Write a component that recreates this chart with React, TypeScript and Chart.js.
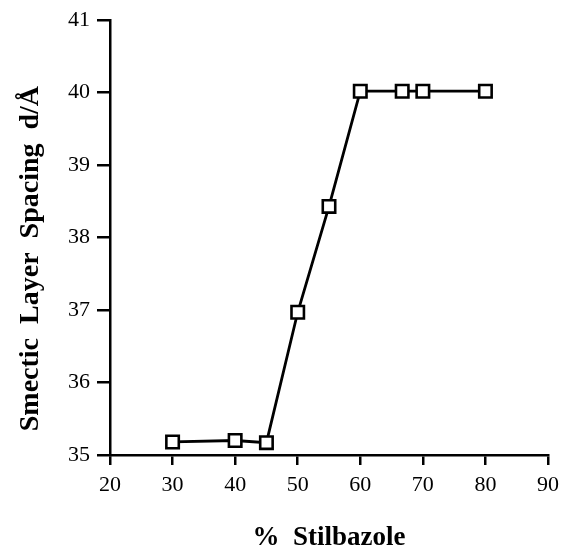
import React, { useEffect, useRef } from "react";
import { Chart, registerables } from "chart.js";

Chart.register(...registerables);

const stilbazolePercent = [30, 40, 45, 50, 55, 60, 66.7, 70, 80];
const layerSpacing = [35.18, 35.2, 35.17, 36.97, 38.43, 40.02, 40.02, 40.02, 40.02];
const xTitle = "%  Stilbazole";
const yTitle = "Smectic  Layer  Spacing  d/Å      ";

const FONT = "'Liberation Serif', 'Times New Roman', serif";

export default function App() {
  const ref = useRef<HTMLCanvasElement | null>(null);

  useEffect(() => {
    if (!ref.current) return;
    const chart = new Chart(ref.current, {
      type: "line",
      data: {
        datasets: [
          {
            data: stilbazolePercent.map((x, i) => ({ x, y: layerSpacing[i] })),
            borderColor: "#000",
            borderWidth: 2.8,
            pointStyle: "rect",
            pointRadius: 8.8,
            pointBorderWidth: 2.6,
            pointBackgroundColor: "#fff",
            pointBorderColor: "#000",
            tension: 0,
            fill: false,
          },
        ],
      },
      options: {
        animation: false,
        responsive: false,
        events: [],
        layout: { padding: { top: 20, right: 0, left: 0, bottom: 0 } },
        plugins: {
          legend: { display: false },
          tooltip: { enabled: false },
        },
        scales: {
          x: {
            type: "linear",
            min: 20,
            max: 90,
            ticks: {
              stepSize: 10,
              color: "#000",
              padding: 7,
              font: { family: FONT, size: 22 },
            },
            grid: {
              display: true,
              drawOnChartArea: false,
              drawTicks: true,
              tickLength: 10,
              lineWidth: 2.5,
              color: "#000",
            },
            border: { display: true, color: "#000", width: 2.5 },
            title: {
              display: true,
              text: xTitle,
              color: "#000",
              padding: 0,
              font: { family: FONT, size: 27, weight: "bold", lineHeight: 1 },
            },
            afterFit: (scale: any) => {
              scale.height = 97;
              scale.paddingRight = 13;
              scale.paddingLeft = 0;
            },
          },
          y: {
            type: "linear",
            min: 35,
            max: 41,
            ticks: {
              stepSize: 1,
              color: "#000",
              padding: 7,
              font: { family: FONT, size: 22 },
            },
            grid: {
              display: true,
              drawOnChartArea: false,
              drawTicks: true,
              tickLength: 13,
              lineWidth: 2.5,
              color: "#000",
            },
            border: { display: true, color: "#000", width: 2.5 },
            title: {
              display: true,
              text: yTitle,
              color: "#000",
              padding: { top: 17, bottom: 0 },
              font: { family: FONT, size: 28, weight: "bold", lineHeight: 1 },
            },
            afterFit: (scale: any) => {
              scale.width = 110;
            },
          },
        },
      },
    });
    return () => chart.destroy();
  }, []);

  return (
    <div style={{ position: "absolute", left: 0, top: 0, width: 561, height: 552, background: "#fff" }}>
      <canvas ref={ref} width={561} height={552} style={{ display: "block" }} />
    </div>
  );
}
